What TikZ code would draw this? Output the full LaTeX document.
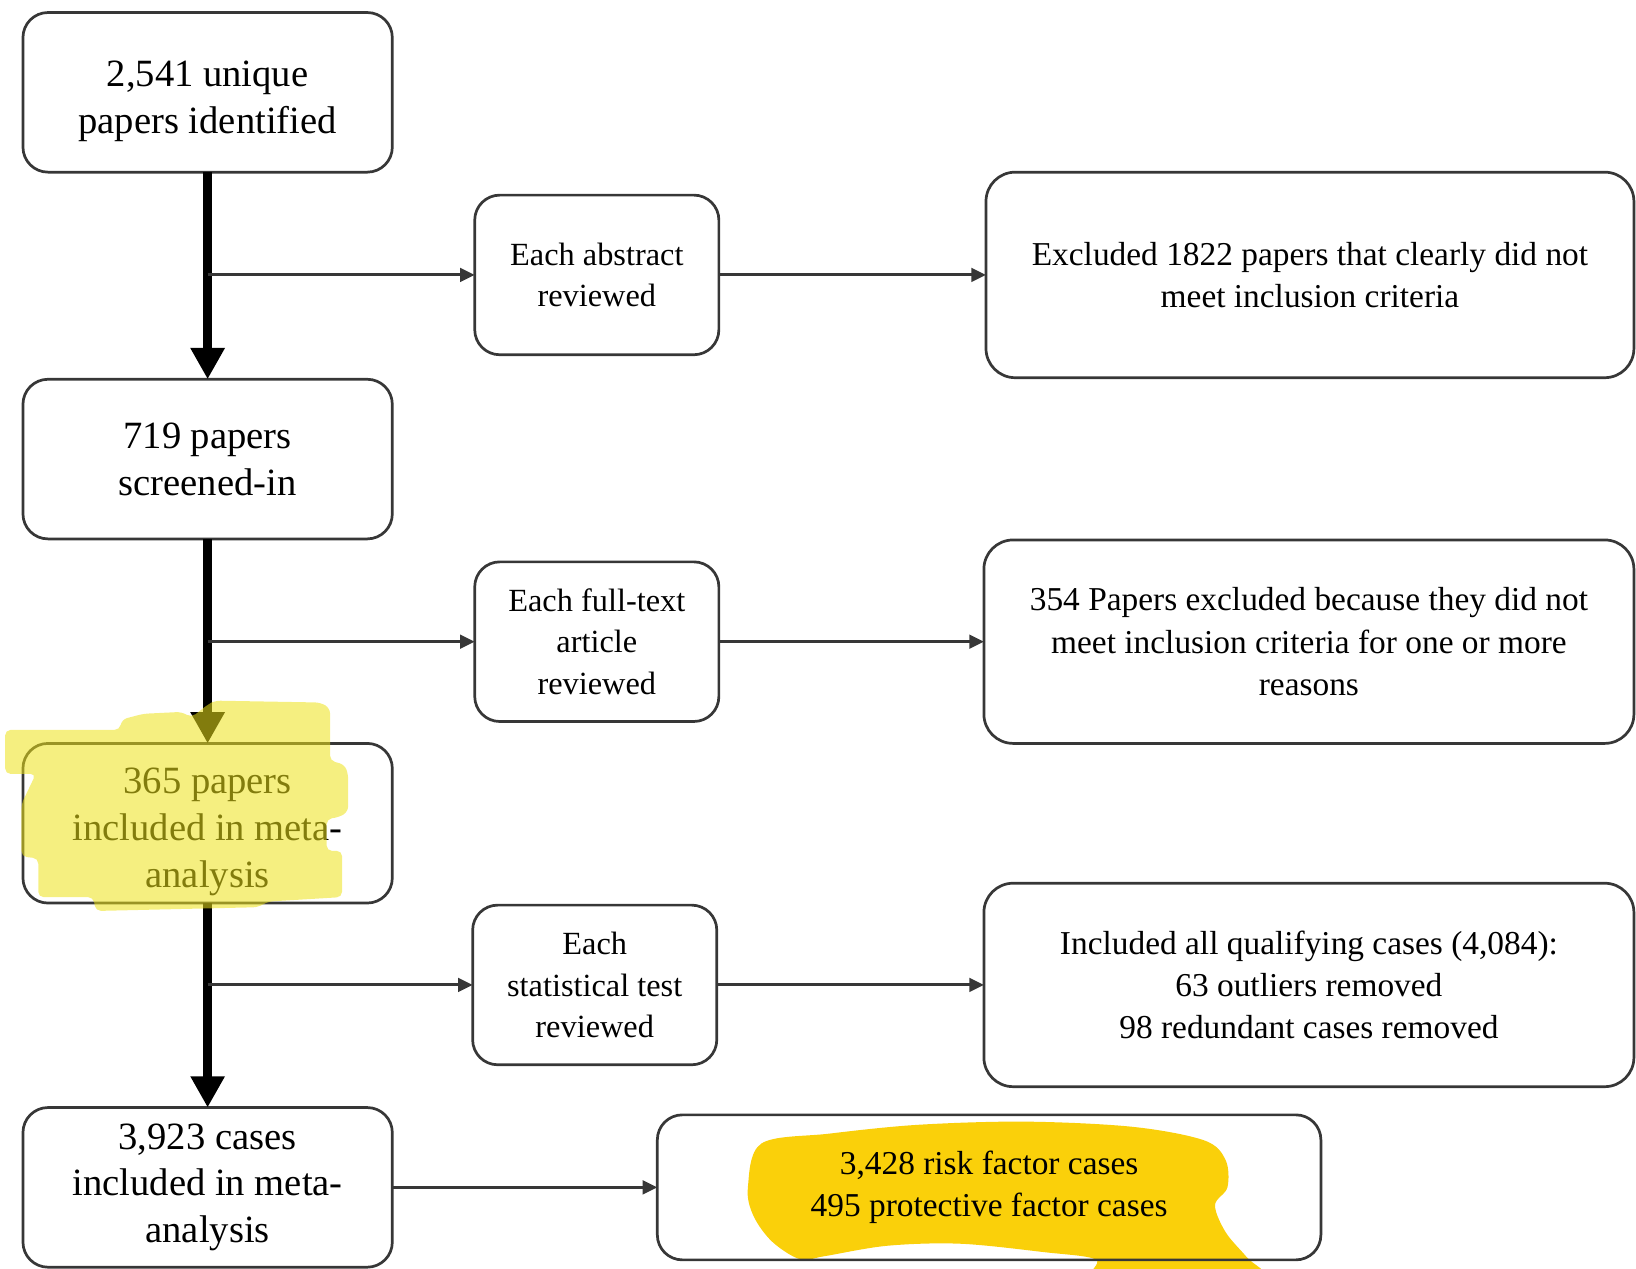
\documentclass[tikz,border=0pt]{standalone}
\usepackage{fontspec}
\setmainfont{Liberation Serif}
\usetikzlibrary{arrows.meta}
\definecolor{boxgray}{RGB}{55,55,55}
\definecolor{hlorange}{RGB}{250,208,10}
\definecolor{hlyellow}{RGB}{237,226,24}
\newcommand{\tallstrut}{\rule{0pt}{41pt}}
\begin{document}
\begin{tikzpicture}[x=1pt,y=-1pt,
  box/.style={draw=boxgray, line width=2.6pt, rounded corners=24pt, inner sep=0pt, outer sep=0pt, align=center},
  mainbox/.style={box, minimum width=354pt, minimum height=153pt, font=\fontsize{37}{45}\selectfont},
  stepbox/.style={box, minimum width=234pt, minimum height=153pt, font=\fontsize{31}{40}\selectfont},
  outbox/.style={box, rounded corners=28pt, minimum width=622pt, minimum height=196pt, font=\fontsize{32}{40.5}\selectfont},
  bigarrow/.style={draw=black, line width=8.5pt, -{Triangle[width=31pt,length=30pt]}},
  smallarrow/.style={draw=boxgray, line width=2.8pt, -{Triangle[width=13pt,length=14pt]}},
]
\useasboundingbox (0,0) rectangle (1568,1216);

% orange highlight (behind)
\begin{scope}
\clip (0,0) rectangle (1568,1216);
\fill[hlorange] plot[smooth cycle, tension=0.55] coordinates {
  (716.8,1138) (729.7,1096) (794.8,1086.5) (880.4,1078) (983,1075) (1085.8,1080)
  (1154.2,1093) (1174.7,1112) (1176.4,1138) (1164.5,1155) (1174.7,1181) (1195,1205)
  (1210,1224) (1130,1226) (1050,1224) (1050,1207) (1000,1200) (920,1192) (850,1194)
  (790,1204) (767,1207) (740,1190) (722,1165)};
\end{scope}

% left column
\node[mainbox] (b1) at (199,88.5) {\tallstrut 2,541 unique\\papers identified};
\node[mainbox] (b2) at (199,440) {719 papers\\screened-in};
\node[mainbox] (b3) at (199,789) {\tallstrut 365 papers\\included in meta-\\analysis};
\node[mainbox] (b4) at (199,1138) {3,923 cases\\included in meta-\\analysis};

% middle column
\node[stepbox] (m1) at (572,263.5) {Each abstract\\reviewed};
\node[stepbox] (m2) at (572,615) {Each full-text\\article\\reviewed};
\node[stepbox] (m3) at (570,944) {Each\\statistical test\\reviewed};

% right column
\node[outbox, minimum width=621pt, minimum height=197pt] (r1) at (1255.5,263.5)
  {Excluded 1822 papers that clearly did not\\meet inclusion criteria};
\node[outbox, minimum width=623pt, minimum height=195pt] (r2) at (1254.5,615)
  {354 Papers excluded because they did not\\meet inclusion criteria for one or more\\reasons};
\node[outbox, minimum width=623pt, minimum height=195pt] (r3) at (1254.5,944)
  {Included all qualifying cases (4,084):\\63 outliers removed\\98 redundant cases removed};
\node[outbox, rounded corners=24pt, minimum width=636pt, minimum height=139pt] (bb) at (948,1138)
  {3,428 risk factor cases\\495 protective factor cases};

% thick flow
\draw[bigarrow] (b1) -- (b2);
\draw[bigarrow] (b2) -- (b3);
\draw[bigarrow] (b3) -- (b4);

% branches
\coordinate (j1) at (199,263.5);
\coordinate (j2) at (199,615);
\coordinate (j3) at (199,944);
\draw[smallarrow] (j1) -- (m1);
\draw[smallarrow] (j2) -- (m2);
\draw[smallarrow] (j3) -- (m3);
\draw[smallarrow] (m1) -- (r1);
\draw[smallarrow] (m2) -- (r2);
\draw[smallarrow] (m3) -- (r3);
\draw[smallarrow] (b4) -- (bb);

% light yellow highlight (over)
\fill[hlyellow, opacity=0.55, rounded corners=5pt]
  (5,699.6) -- (114.6,699.6) -- (116.9,689.5) -- (137.5,684.1) -- (174.2,682.3)
  -- (183.4,687.7) -- (199.4,675.1) -- (206.3,671.5) -- (307.1,673.3) -- (316.3,678.7)
  -- (316.3,729.1) -- (330.1,732.7) -- (333.7,741.7) -- (333.7,777.7) -- (325.5,783.1)
  -- (313.1,784.9) -- (313.1,815.5) -- (327.8,815.5) -- (327.8,859.8) -- (256.7,864.1)
  -- (247.5,869.5) -- (91.7,873.1) -- (89.4,859.8) -- (36.7,859.8) -- (36.7,822.7)
  -- (20.6,820.9) -- (20.6,770.5) -- (34.4,741.7) -- (5,741.7) -- cycle;
\end{tikzpicture}
\end{document}
